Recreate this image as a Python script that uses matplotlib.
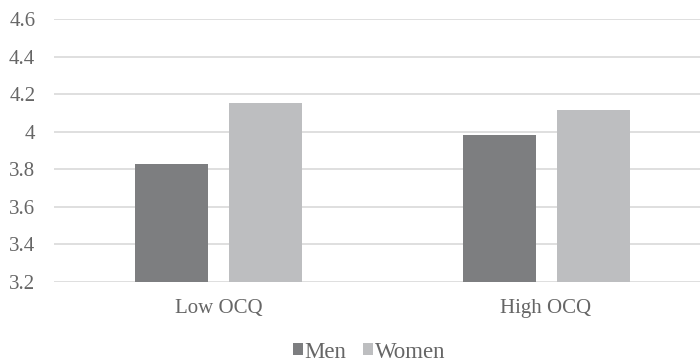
import numpy as np
import matplotlib.pyplot as plt

FONT = 'Liberation Serif'
plt.rcParams['font.family'] = [FONT, 'DejaVu Serif']

groups = ['Low OCQ', 'High OCQ']
series = ['Men', 'Women']
men = [3.83, 3.983]
women = [4.154, 4.116]
colors = ['#7d7e80', '#bdbec0']
text_col = '#666666'

fig = plt.figure(figsize=(7, 3.63), dpi=100)
ax = fig.add_axes([54 / 700, 81 / 363, 646 / 700, 263 / 363])

x = np.arange(len(groups))
w = 0.223
off = 0.1435
ax.bar(x - off, men, w, color=colors[0], label=series[0], zorder=3)
ax.bar(x + off, women, w, color=colors[1], label=series[1], zorder=3)

ax.set_ylim(3.2, 4.6)
ax.set_xlim(-0.502, 1.470)
yt = np.arange(3.2, 4.61, 0.2)
ax.set_yticks(yt)
ax.set_yticklabels(['{:g}'.format(round(v, 1)) for v in yt], family=FONT, fontsize=15)
ax.set_xticks(x)
ax.set_xticklabels(groups, family=FONT, fontsize=15)

ax.grid(True, axis='y', color='#d9d9d9', linewidth=1.2, zorder=0)
for s in ax.spines.values():
    s.set_visible(False)
ax.tick_params(length=0, colors=text_col)
ax.tick_params(axis='y', pad=13.5)
ax.tick_params(axis='x', pad=12)

leg = fig.legend(loc='center', bbox_to_anchor=(369 / 700, 1 - 352 / 363), ncol=2,
                 frameon=False, prop={'family': FONT, 'size': 16.5},
                 handlelength=0.45, handleheight=0.45,
                 handletextpad=0.08, columnspacing=0.7, borderpad=0)
for t in leg.get_texts():
    t.set_color(text_col)

fig.savefig('out.png', dpi=100)
